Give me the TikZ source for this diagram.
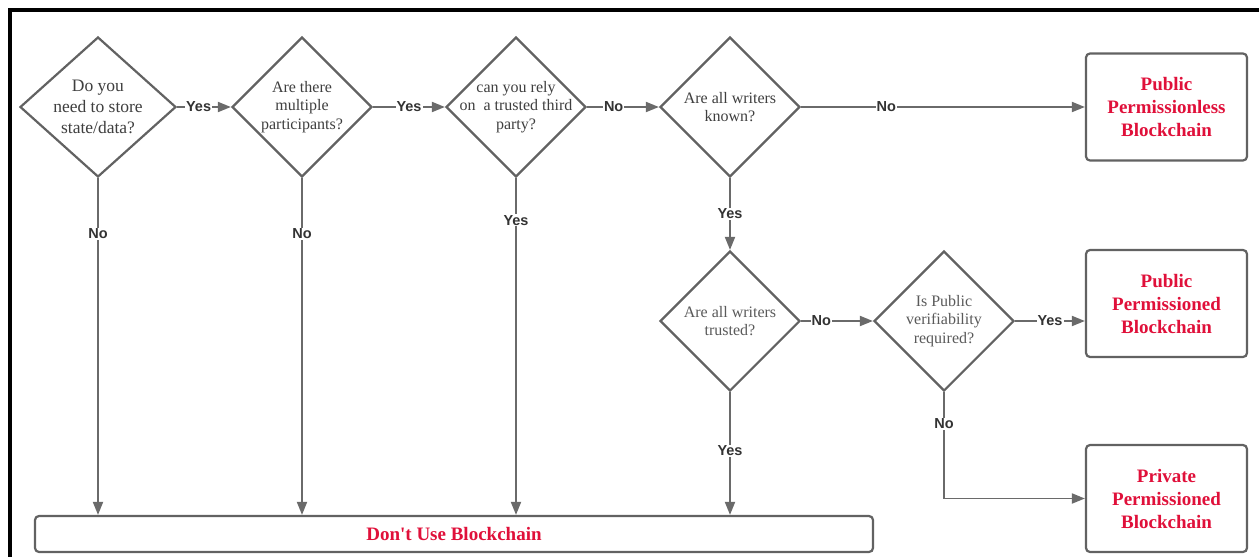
\documentclass[tikz,border=0pt]{standalone}
\usepackage{fontspec}
\setmainfont{Liberation Serif}[Ligatures=TeXOff]
\newfontfamily\labelfont{Liberation Sans}
\usepackage{tikz}
\usetikzlibrary{arrows.meta,positioning,shapes.geometric}
\definecolor{framegray}{HTML}{626262}
\definecolor{linegray}{HTML}{6A6A6A}
\definecolor{qtext}{HTML}{3F3F3F}
\definecolor{qlight}{HTML}{5A5A5A}
\definecolor{outred}{HTML}{E0103A}
\definecolor{lbltext}{HTML}{333333}
\tikzset{
  decision/.style={draw=framegray, line width=2.2pt, shape=diamond, minimum width=140pt, minimum height=140pt, inner sep=0pt, fill=white},
  qtxt/.style={align=center, text=qtext, inner sep=0pt, font=\fontsize{16}{18.5}\selectfont},
  outbox/.style={draw=framegray, line width=2.2pt, rounded corners=4pt, fill=white, minimum width=161pt, minimum height=107pt, align=center, text=outred, font=\fontsize{19}{23}\selectfont\bfseries},
  ar/.style={-{Triangle[length=13pt,width=10pt]}, line width=1.9pt, draw=linegray},
  yn/.style={fill=white, inner sep=1pt, text=lbltext, font=\labelfont\bfseries\fontsize{14.5}{15}\selectfont},
}
\begin{document}
\begin{tikzpicture}[x=1pt,y=-1pt]
  \useasboundingbox (0,0) rectangle (1259,557);
  \draw[line width=4pt] (1259,10) -- (9.5,10) -- (9.5,557);

  % decisions
  \node[decision, minimum width=156pt, label={[qtxt, font=\fontsize{17.5}{21}\selectfont]center:{Do you\\need to store\\state/data?}}] (d1) at (98,107) {};
  \node[decision, label={[qtxt]center:{Are there\\multiple\\participants?}}] (d2) at (302,107) {};
  \node[decision, label={[qtxt]center:{can you rely\\on~ a trusted third\\party?}}] (d3) at (516,107) {};
  \node[decision, label={[qtxt]center:{Are all writers\\known?}}] (d4) at (730,107) {};
  \node[decision, label={[qtxt, text=qlight]center:{Are all writers\\trusted?}}] (d5) at (730,321) {};
  \node[decision, label={[qtxt, text=qlight]center:{Is Public\\verifiability\\required?}}] (d6) at (944,321) {};

  % outcomes
  \node[outbox] (pless) at (1166.5,107) {Public\\Permissionless\\Blockchain};
  \node[outbox] (pmd) at (1166.5,303.5) {Public\\Permissioned\\Blockchain};
  \node[outbox] (prv) at (1166.5,498.5) {Private\\Permissioned\\Blockchain};
  \node[outbox, minimum width=838pt, minimum height=36pt] (nobc) at (454,534) {Don't Use Blockchain};

  \draw[ar] (d1) -- node[yn, pos=.4] {Yes} (d2);
  \draw[ar] (d2) -- node[yn] {Yes} (d3);
  \draw[ar] (d3) -- node[yn, pos=.37] {No} (d4);
  \draw[ar] (d4) -- node[yn, pos=.3] {No} (pless);
  \draw[ar] (d4) -- node[yn] {Yes} (d5);
  \draw[ar] (d5) -- node[yn, pos=.28] {No} (d6);
  \draw[ar] (d6.east) -- node[yn] {Yes} (d6 -| pmd.west);
  \draw[ar] (d6.south) |- node[yn, pos=.15] {No} (prv.west);

  \draw[ar] (d1.south) -- node[yn, pos=.165] {No} (d1.south |- nobc.north);
  \draw[ar] (d2.south) -- node[yn, pos=.165] {No} (d2.south |- nobc.north);
  \draw[ar] (d3.south) -- node[yn, pos=.125] {Yes} (d3.south |- nobc.north);
  \draw[ar] (d5.south) -- node[yn, pos=.48] {Yes} (d5.south |- nobc.north);
\end{tikzpicture}
\end{document}
